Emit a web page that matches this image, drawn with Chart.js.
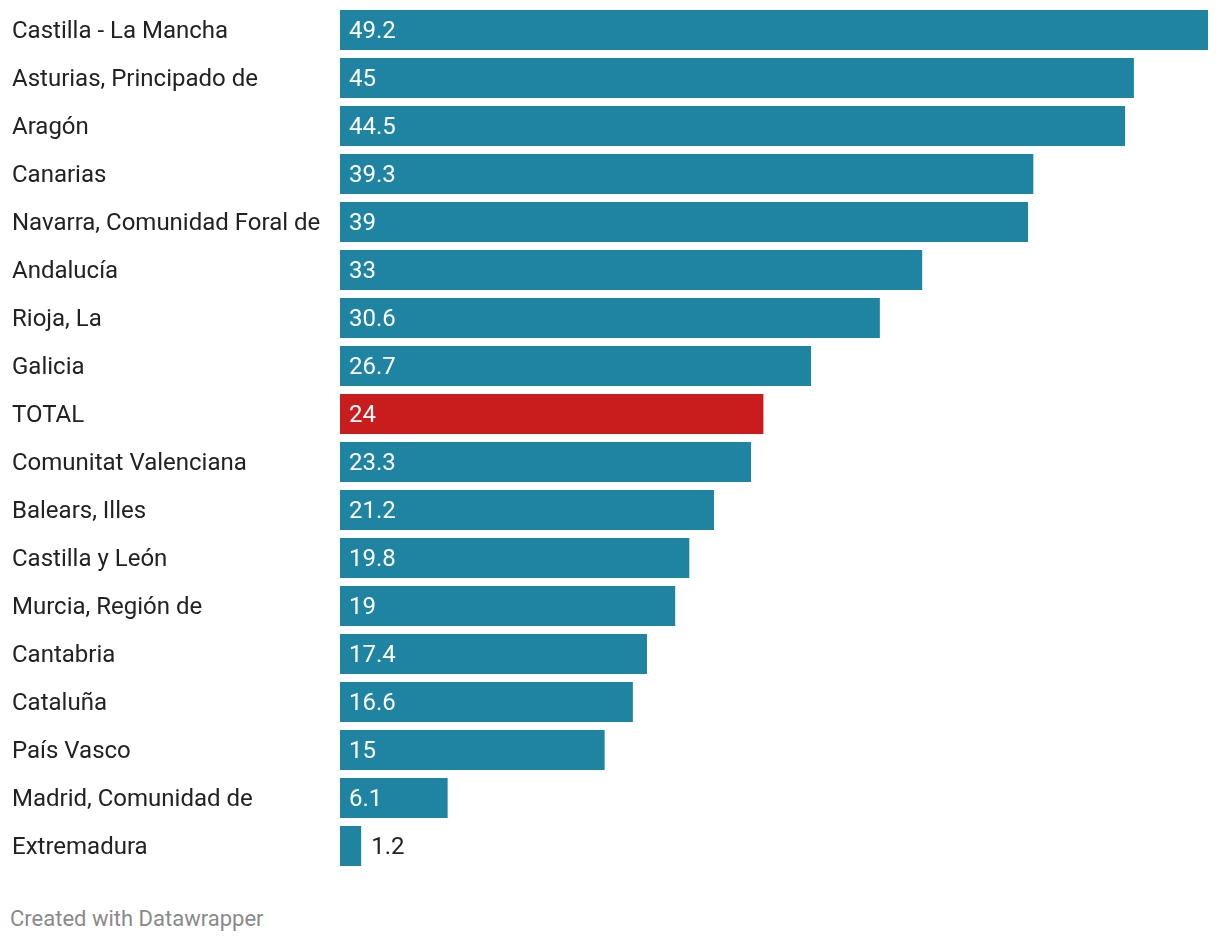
<!DOCTYPE html>
<html>
<head>
<meta charset="utf-8">
<script src="https://cdn.jsdelivr.net/npm/chart.js@4"></script>
<style>
  body { margin: 0; background: #fff; font-family: Roboto, sans-serif; }
  #wrap { position: absolute; left: 0; top: 0; width: 1220px; height: 880px; }
  #footer { position: absolute; left: 10px; top: 906px; font-size: 22px; color: #8a8a8a; font-family: Roboto, sans-serif; }
</style>
</head>
<body>
<div id="wrap"><canvas id="chart"></canvas></div>
<div id="footer">Created with Datawrapper</div>
<script>
  var regions = ['Castilla - La Mancha', 'Asturias, Principado de', 'Aragón', 'Canarias',
    'Navarra, Comunidad Foral de', 'Andalucía', 'Rioja, La', 'Galicia', 'TOTAL',
    'Comunitat Valenciana', 'Balears, Illes', 'Castilla y León', 'Murcia, Región de',
    'Cantabria', 'Cataluña', 'País Vasco', 'Madrid, Comunidad de', 'Extremadura'];
  var values = [49.2, 45, 44.5, 39.3, 39, 33, 30.6, 26.7, 24, 23.3, 21.2, 19.8, 19, 17.4, 16.6, 15, 6.1, 1.2];

  var teal = '#1f83a2';
  var red = '#c91d1d';
  var colors = regions.map(function (r) { return r == 'TOTAL' ? red : teal; });

  // value labels inside the bar, or just after it when the bar is too short
  var valueLabels = {
    id: 'valueLabels',
    afterDatasetsDraw: function (chart) {
      var ctx = chart.ctx;
      var meta = chart.getDatasetMeta(0);
      ctx.save();
      ctx.font = '24px Roboto';
      ctx.textBaseline = 'middle';
      ctx.textAlign = 'left';
      meta.data.forEach(function (bar, i) {
        var txt = String(values[i]);
        var w = ctx.measureText(txt).width;
        var len = bar.x - bar.base;
        if (len > w + 16) {
          ctx.fillStyle = '#ffffff';
          ctx.fillText(txt, bar.base + 9, bar.y + 2);
        } else {
          ctx.fillStyle = '#222222';
          ctx.fillText(txt, bar.x + 10, bar.y + 2);
        }
      });
      ctx.restore();
    }
  };

  var chart = new Chart(document.getElementById('chart'), {
    type: 'bar',
    data: {
      labels: regions,
      datasets: [{
        data: values,
        backgroundColor: colors,
        borderWidth: 0,
        categoryPercentage: 1,
        barPercentage: 40 / 48
      }]
    },
    options: {
      indexAxis: 'y',
      responsive: true,
      maintainAspectRatio: false,
      animation: false,
      layout: { padding: { left: 12, right: 12, top: 6, bottom: 10 } },
      plugins: { legend: { display: false }, tooltip: { enabled: false } },
      scales: {
        x: { display: false, min: 0, max: 49.2 },
        y: {
          grid: { display: false, drawTicks: false },
          border: { display: false },
          ticks: {
            crossAlign: 'far',
            color: '#222222',
            font: { family: 'Roboto', size: 24 },
            labelOffset: 2,
            autoSkip: false
          },
          afterFit: function (scale) {
            scale.width = 328;
            scale.paddingTop = 0;
            scale.paddingBottom = 0;
          }
        }
      }
    },
    plugins: [valueLabels]
  });
</script>
</body>
</html>
